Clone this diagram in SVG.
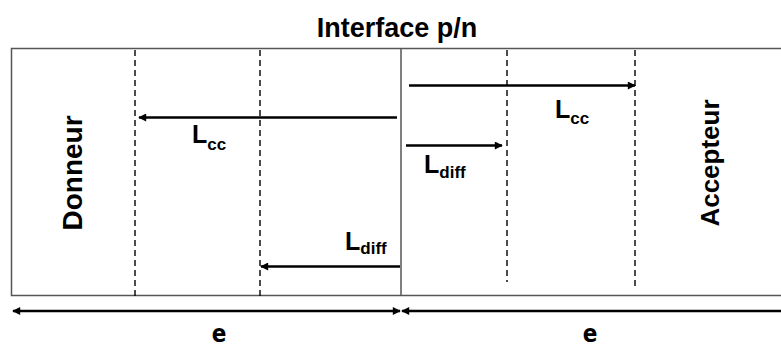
<svg xmlns="http://www.w3.org/2000/svg" width="781" height="347" viewBox="0 0 781 347">
<style>
.box{fill:none;stroke:#555;stroke-width:1.5}
.dash{stroke:#000;stroke-width:1.4;stroke-dasharray:6 4;fill:none}
.arr{stroke:#000;stroke-width:2.5;fill:none}
.t{font-family:"Liberation Sans",Arial,sans-serif;font-weight:bold;fill:#000}
.e{font-family:"DejaVu Sans Condensed","DejaVu Sans",sans-serif;font-weight:bold;fill:#000}
</style>
<defs>
<marker id="ah" viewBox="0 0 10 10" refX="9" refY="5" markerWidth="9" markerHeight="8" markerUnits="userSpaceOnUse" orient="auto-start-reverse">
<path d="M0,0 L10,5 L0,10 Z" fill="#000"/>
</marker>
</defs>
<rect width="781" height="347" fill="#fff"/>
<g id="title"><text class="t" x="397" y="37" font-size="27" text-anchor="middle">Interface p/n</text></g>
<g id="frame">
<path class="box" d="M781,48.5 H11.5 V295.5 H781"/>
<line class="box" x1="401" y1="48.5" x2="401" y2="295.5"/>
<line class="dash" x1="135" y1="50" x2="135" y2="296"/>
<line class="dash" x1="260" y1="50" x2="260" y2="296"/>
<line class="dash" x1="507" y1="50" x2="507" y2="282"/>
<line class="dash" x1="635" y1="50" x2="635" y2="290"/>
</g>
<g id="donneur"><text class="t" font-size="28" text-anchor="middle" transform="translate(82,173) rotate(-90)">Donneur</text></g>
<g id="accepteur"><text class="t" font-size="26" text-anchor="middle" transform="translate(719,163) rotate(-90)">Accepteur</text></g>
<g id="connectors">
<line class="arr" x1="397" y1="117.5" x2="139" y2="117.5" marker-end="url(#ah)"/>
<line class="arr" x1="400" y1="266.5" x2="261" y2="266.5" marker-end="url(#ah)"/>
<line class="arr" x1="409" y1="85.5" x2="635" y2="85.5" marker-end="url(#ah)"/>
<line class="arr" x1="406" y1="145.5" x2="502" y2="145.5" marker-end="url(#ah)"/>
<line class="arr" x1="13" y1="311" x2="400" y2="311" marker-start="url(#ah)" marker-end="url(#ah)"/>
<line class="arr" x1="402" y1="311" x2="781" y2="311" marker-start="url(#ah)"/>
</g>
<g id="lcc-left"><text class="t" x="192" y="143" font-size="25">L<tspan font-size="17" dy="7">cc</tspan></text></g>
<g id="ldiff-left"><text class="t" x="345" y="250" font-size="25">L<tspan font-size="17" dy="4">diff</tspan></text></g>
<g id="lcc-right"><text class="t" x="555" y="117.5" font-size="25">L<tspan font-size="17" dy="6">cc</tspan></text></g>
<g id="ldiff-right"><text class="t" x="424" y="173" font-size="25">L<tspan font-size="17" dy="5">diff</tspan></text></g>
<g id="e-left"><text class="e" x="219" y="342" font-size="24" text-anchor="middle">e</text></g>
<g id="e-right"><text class="e" x="590" y="342" font-size="24" text-anchor="middle">e</text></g>
</svg>
